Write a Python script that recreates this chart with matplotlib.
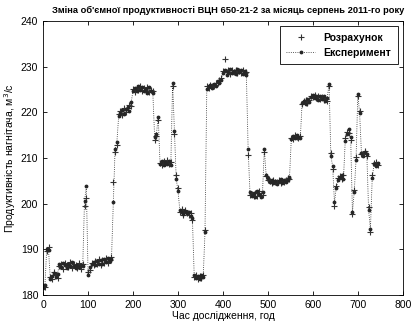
import numpy as np
import matplotlib
matplotlib.use('Agg')
import matplotlib.pyplot as plt

plt.rcParams['font.family'] = ['Liberation Sans', 'DejaVu Sans']

# Експериментальні значення (кожні 4 години)
experiment = [
    181.5, 182.3,
    190.2, 189.8,
    183.5, 184.2, 184.8, 183.9, 184.6,
    186.8, 186.2, 187.1, 186.5, 186.0, 186.9, 186.3, 187.2, 186.4, 185.9, 186.7, 186.1, 186.6, 186.3,
    200.5, 203.8,
    184.3, 186.2,
    186.8, 187.2, 186.5, 187.4, 186.9, 187.6, 186.8, 187.9, 187.3, 188.1, 187.5, 188.0,
    200.3, 212.0, 213.5,
    219.2, 219.8, 220.5, 219.6, 220.8, 221.2, 220.4, 222.3,
    224.8, 225.3, 224.6, 225.8, 224.9, 225.5, 224.7, 225.2, 224.3, 225.6, 224.8, 224.2,
    214.6, 215.3, 219.0,
    208.7, 209.3, 208.5, 209.1, 208.8, 209.4, 208.6,
    226.5, 216.0, 205.5, 202.8,
    198.6, 198.2, 197.8, 198.4, 197.9, 198.1, 197.4, 196.8,
    184.3, 183.8, 184.1, 183.5, 184.4, 183.9,
    193.8, 225.2,
    225.7, 226.1, 225.4, 226.3, 225.9, 226.8, 226.4, 227.2,
    228.6, 229.3, 228.2, 228.9, 229.5, 228.7, 229.1, 228.4, 229.6, 228.8, 229.2, 228.5, 229.0, 228.3,
    212.0, 202.5,
    201.8, 202.4, 201.5, 202.9, 202.1, 201.4, 202.6,
    212.0,
    206.3, 205.6, 204.8, 205.2, 204.5, 205.0, 204.3, 204.9, 205.4, 204.6, 205.1, 204.7, 205.3, 205.8,
    214.2, 214.8, 214.4, 215.0, 214.6, 214.3,
    222.0, 222.6, 221.8, 222.9, 222.3,
    223.4, 223.9, 223.1, 223.7, 222.8, 223.5, 222.9, 223.6, 222.5, 223.2,
    226.3,
    210.5, 208.2, 200.3, 203.5, 205.1, 205.8, 206.2, 205.4, 213.8, 215.2, 216.4, 214.7, 198.2, 202.6,
    209.6, 224.0, 219.8, 211.2, 210.5, 211.4, 210.8, 198.6, 194.4, 205.6, 208.7, 208.3, 208.9,
]

# Розрахункові значення
calculation = [
    182.0, 181.7,
    189.6, 190.5,
    184.0, 183.6, 185.0, 184.3, 183.8,
    186.4, 186.9, 185.8, 187.0, 186.6, 186.2, 187.3, 185.9, 186.8, 186.5, 186.0, 187.0, 185.8, 186.9,
    199.6, 201.2,
    185.0, 185.6,
    187.1, 186.6, 187.5, 186.9, 187.8, 186.7, 187.6, 187.1, 188.2, 187.0, 187.7, 188.3,
    204.8, 211.4, 212.8,
    219.6, 220.3, 219.4, 221.0, 220.2, 220.9, 221.6, 221.5,
    225.1, 224.5, 225.4, 224.9, 225.7, 224.6, 225.3, 224.8, 225.6, 224.5, 225.0, 224.6,
    213.9, 214.8, 218.4,
    209.0, 208.6, 209.4, 208.9, 209.5, 208.7, 209.2,
    225.8, 215.2, 206.4, 203.4,
    198.3, 198.8, 197.6, 198.7, 198.0, 197.6, 197.9, 196.5,
    184.0, 184.4, 183.6, 184.2, 183.8, 184.5,
    194.2, 225.9,
    225.4, 226.0, 225.8, 225.9, 226.5, 226.4, 227.0, 227.6,
    229.0, 231.8, 228.8, 229.2, 228.5, 229.4, 228.8, 229.3, 228.7, 229.1, 228.6, 229.4, 228.7, 228.9,
    210.6, 202.0,
    202.2, 201.6, 202.4, 201.8, 202.7, 202.0, 201.9,
    211.3,
    206.0, 205.2, 205.0, 204.6, 205.3, 204.7, 204.8, 205.1, 204.5, 205.0, 204.8, 205.2, 205.6, 205.4,
    214.5, 214.1, 215.1, 214.7, 214.3, 214.9,
    221.9, 222.4, 222.7, 222.1, 222.8,
    223.7, 223.3, 223.8, 223.2, 223.6, 223.0, 223.4, 222.8, 223.1, 222.6,
    225.8,
    211.2, 207.6, 199.6, 204.0, 205.6, 206.0, 205.5, 206.4, 214.3, 215.8, 215.6, 213.9, 197.8, 203.1,
    210.2, 223.5, 220.4, 210.8, 211.0, 211.6, 210.5, 199.3, 193.9, 206.2, 208.9, 209.2, 208.4,
]

hours = np.arange(0, 4 * len(experiment), 4)

fig = plt.figure(figsize=(4.11, 3.25), dpi=100)
ax = fig.add_axes([0.105, 0.092, 0.875, 0.843])

ax.plot(hours, calculation, linestyle='none', marker='+', ms=5, mew=0.8,
        color='0.2', label='Розрахунок')
ax.plot(hours, experiment, linestyle=':', lw=0.6, marker='.', ms=3.5,
        color='0.15', label='Експеримент')

ax.set_xlim(0, 800)
ax.set_ylim(180, 240)
ax.set_xticks(range(0, 801, 100))
ax.set_yticks(range(180, 241, 10))
ax.tick_params(direction='in', top=True, right=True, labelsize=7.5, length=3, width=0.6)
for s in ax.spines.values():
    s.set_linewidth(0.6)

fig.text(0.555, 0.955, "Зміна об'ємної продуктивності ВЦН 650-21-2 за місяць серпень 2011-го року",
         fontsize=6.7, fontweight='bold', ha='center', va='bottom')
ax.set_xlabel('Час дослідження, год', fontsize=7.5, labelpad=1)
ax.set_ylabel('Продуктивність нагнітача, м$^3$/с', fontsize=7.5, labelpad=2)

leg = ax.legend(loc='upper right', fontsize=7.5, fancybox=False, edgecolor='k',
                borderpad=0.6, handlelength=2.8, framealpha=1)
leg.get_frame().set_linewidth(0.6)
for t in leg.get_texts():
    t.set_fontweight('bold')

fig.savefig('out.png', dpi=100)
